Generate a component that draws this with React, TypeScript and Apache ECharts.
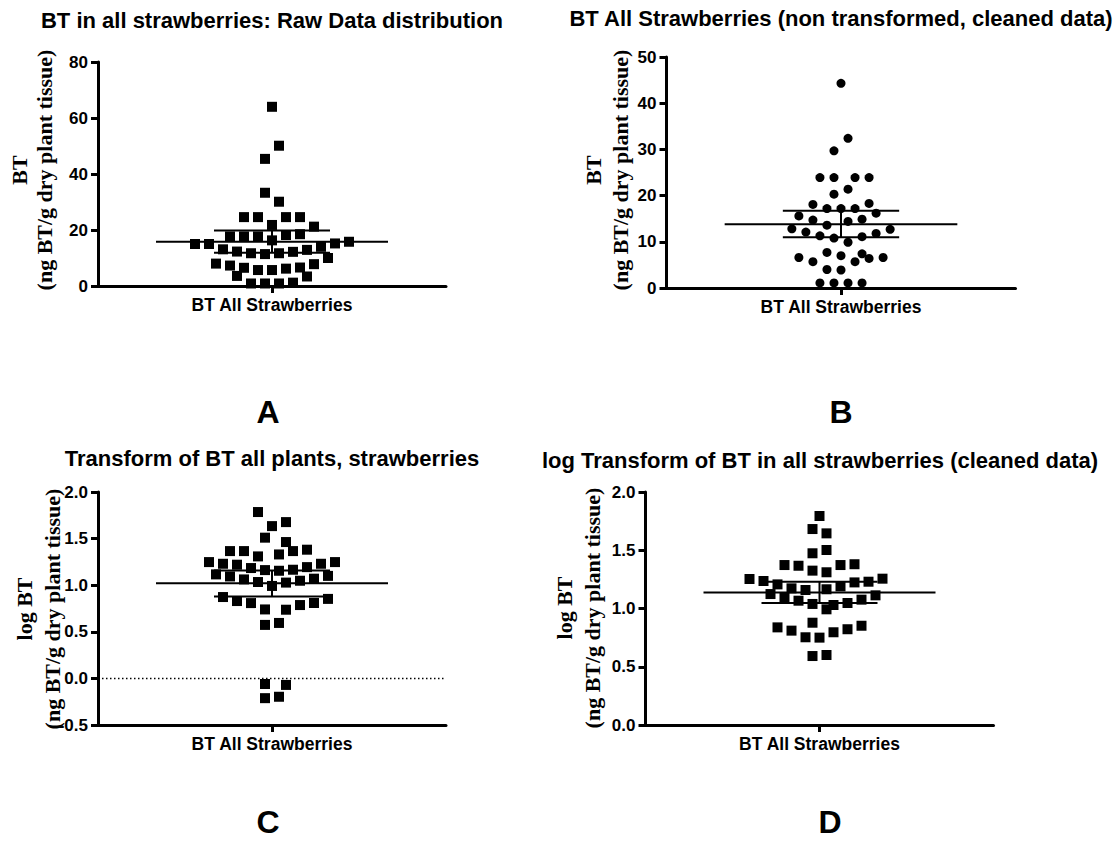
import React, { useEffect, useRef } from "react";
import * as echarts from "echarts";

// ---- Panel A: raw data (offset = horizontal scatter position, value = BT) ----
const rawOffsets = [0, 7, -7, -7, 7, -28, -14, 14, 28, 0, 42, -42, -28, -14, 14, 28, 0, -77, -63, 63, 77, 49, -49, -35, -21, -7, 7, 21, 35, 56, -56, -42, -28, -14, 0, 14, 28, 42, -35, 35, -21, -7, 7, 21];
const rawValues = [64.0, 50.1, 45.4, 33.3, 30.1, 24.6, 24.6, 24.6, 24.6, 21.8, 21.2, 17.7, 17.7, 17.7, 18.2, 18.5, 16.3, 15.0, 15.0, 15.2, 15.8, 14.0, 13.1, 12.3, 11.7, 11.4, 11.7, 12.2, 12.9, 10.0, 8.0, 7.3, 6.5, 5.7, 5.7, 6.2, 6.6, 7.8, 3.6, 3.4, 0.9, 0.9, 0.9, 1.2];
const rawStats = [15.8, 11.9, 19.8]; // mean, lower, upper

// ---- Panel B: cleaned, non transformed ----
const cleanOffsets = [0, 7, -7, -21, -7, 14, 28, -7, 7, -28, 28, -14, 0, 14, -42, 35, -28, 21, 7, -49, -14, 49, -35, 35, -21, -7, 21, 7, -14, 0, 21, -42, -28, 14, 28, 42, -14, 0, -21, -7, 7, 21];
const cleanValues = [44.3, 32.4, 29.7, 23.9, 23.9, 23.9, 23.9, 20.3, 21.4, 18.1, 18.3, 17.2, 17.2, 17.2, 15.6, 16.2, 14.7, 14.9, 14.4, 12.8, 13.6, 12.7, 12.1, 11.8, 11.3, 10.8, 11.1, 9.9, 7.7, 7.0, 7.4, 6.6, 5.7, 5.7, 6.4, 6.6, 4.0, 3.9, 1.1, 1.1, 1.1, 1.1];
const cleanStats = [13.8, 11.0, 16.7];

// ---- Panel C: log transform, all ----
const logOffsets = [-14, 0, 14, -7, 14, -42, -28, 21, 35, -14, 7, -63, -49, -35, -21, -7, 7, 21, 35, 49, 63, -56, -42, -28, -14, 0, 14, 28, 42, 56, -49, -35, -21, -7, 14, 28, 42, 56, -7, 7, -7, 14, -7, 7];
const logValues = [1.785, 1.634, 1.677, 1.51, 1.463, 1.366, 1.366, 1.366, 1.381, 1.309, 1.33, 1.248, 1.23, 1.22, 1.184, 1.162, 1.155, 1.166, 1.194, 1.23, 1.248, 1.116, 1.094, 1.062, 1.034, 0.992, 1.028, 1.048, 1.07, 1.1, 0.873, 0.83, 0.808, 0.74, 0.737, 0.787, 0.809, 0.853, 0.574, 0.595, -0.06, -0.07, -0.212, -0.197];
const logStats = [1.02, 0.88, 1.159];

// ---- Panel D: log transform, cleaned ----
const logCleanOffsets = [0, -7, 7, -7, 7, -35, -21, 21, 35, -7, 7, -70, -56, -42, 21, 35, 49, 63, -28, -14, 7, -49, -35, 56, -21, -7, 14, 28, 42, 7, -7, -42, -28, 14, 28, 42, -14, 0, -7, 7];
const logCleanValues = [1.794, 1.682, 1.645, 1.474, 1.502, 1.373, 1.367, 1.373, 1.38, 1.325, 1.311, 1.253, 1.236, 1.207, 1.19, 1.224, 1.23, 1.256, 1.173, 1.159, 1.165, 1.124, 1.096, 1.113, 1.067, 1.039, 1.03, 1.047, 1.076, 0.993, 0.878, 0.838, 0.81, 0.796, 0.822, 0.852, 0.753, 0.75, 0.592, 0.601];
const logCleanStats = [1.137, 1.047, 1.23];

const categoryLabel = "BT All Strawberries";
const titles = [
  "BT in all strawberries: Raw Data distribution",
  "BT All Strawberries (non transformed, cleaned data)",
  "Transform of BT all plants, strawberries",
  "log Transform of BT in all strawberries (cleaned data)",
];
const letters = ["A", "B", "C", "D"];
const yNames = [
  ["BT", "(ng BT/g dry plant tissue)"],
  ["BT", "(ng BT/g dry plant tissue)"],
  ["log BT", "(ng BT/g dry plant tissue)"],
  ["log BT", "(ng BT/g dry plant tissue)"],
];
const yRanges = [
  [0, 80, 20],
  [0, 50, 10],
  [-0.5, 2.0, 0.5],
  [0, 2.0, 0.5],
];

const SANS = "'Liberation Sans', Arial, sans-serif";
const SERIF = "'Liberation Serif', 'Times New Roman', serif";
const X_HALF = 174;
const MEAN_HALF = 116;
const ERR_HALF = 58;

const grids = [
  { left: 98, top: 62, width: 348, height: 224 },
  { left: 666.5, top: 57, width: 349, height: 231 },
  { left: 98, top: 492, width: 348, height: 233 },
  { left: 645.5, top: 492, width: 348, height: 233 },
];

function buildSeries(idx: number, offsets: number[], values: number[], stats: number[], symbol: string, size: number) {
  const pts = offsets.map((o, i) => [o, values[i]]);
  const [mean, lo, hi] = stats;
  const line = (data: number[][], width: number) => ({
    type: "line",
    xAxisIndex: idx,
    yAxisIndex: idx,
    data,
    symbol: "none",
    showSymbol: false,
    silent: true,
    lineStyle: { color: "#000", width, opacity: 1 },
    z: 3,
  });
  return [
    {
      type: "scatter",
      xAxisIndex: idx,
      yAxisIndex: idx,
      data: pts,
      symbol,
      symbolSize: size,
      itemStyle: { color: "#000", opacity: 1 },
      silent: true,
      z: 2,
    },
    line([[-MEAN_HALF, mean], [MEAN_HALF, mean]], 2),
    line([[-ERR_HALF, hi], [ERR_HALF, hi]], 2),
    line([[-ERR_HALF, lo], [ERR_HALF, lo]], 2),
    line([[0, lo], [0, hi]], 2),
  ];
}

export default function App() {
  const ref = useRef<HTMLDivElement>(null);
  useEffect(() => {
    if (!ref.current) return;
    const chart = echarts.init(ref.current, undefined, { renderer: "svg" });

    const xAxis = grids.map((_, i) => ({
      type: "value",
      gridIndex: i,
      min: -X_HALF,
      max: X_HALF,
      axisLine: { show: true, onZero: false, lineStyle: { color: "#000", width: 3 } },
      axisTick: { show: true, customValues: [0], length: 7, lineStyle: { color: "#000", width: 3 } },
      axisLabel: {
        show: true,
        customValues: [0],
        formatter: () => categoryLabel,
        margin: 10,
        color: "#000",
        fontSize: 17.5,
        fontWeight: "bold",
        fontFamily: SANS,
      },
      splitLine: { show: false },
    }));

    const yAxis = yRanges.map((r, i) => ({
      type: "value",
      gridIndex: i,
      min: r[0],
      max: r[1],
      interval: r[2],
      axisLine: { show: true, onZero: false, lineStyle: { color: "#000", width: 3 } },
      axisTick: { show: true, length: 7, lineStyle: { color: "#000", width: 3 } },
      axisLabel: {
        margin: 10,
        color: "#000",
        fontSize: 17,
        fontWeight: "bold",
        fontFamily: SANS,
        formatter: (v: number) => (r[2] < 1 ? v.toFixed(1) : String(v)),
      },
      splitLine: { show: false },
    }));

    const series: any[] = [
      ...buildSeries(0, rawOffsets, rawValues, rawStats, "rect", 10),
      ...buildSeries(1, cleanOffsets, cleanValues, cleanStats, "circle", 9),
      ...buildSeries(2, logOffsets, logValues, logStats, "rect", 10),
      ...buildSeries(3, logCleanOffsets, logCleanValues, logCleanStats, "rect", 10),
      {
        type: "line",
        xAxisIndex: 2,
        yAxisIndex: 2,
        data: [[-X_HALF, 0], [X_HALF, 0]],
        symbol: "none",
        silent: true,
        lineStyle: { color: "#000", width: 1.5, type: [1.5, 2.5] },
        z: 1,
      },
    ];

    const titlePos = [
      [272, 20],
      [841, 18],
      [272, 458],
      [820, 460],
    ];
    const letterPos = [
      [268, 412],
      [841, 412],
      [268, 822],
      [830, 822],
    ];
    const namePos = [
      [19, 44, 170],
      [593, 620, 170],
      [24, 52, 609],
      [564, 592, 608],
    ];

    const graphic: any[] = [];
    const textStyle = (text: string, fontSize: number, family: string) => ({
      text,
      fill: "#000",
      fontSize,
      fontWeight: "bold",
      fontFamily: family,
      align: "center",
      verticalAlign: "middle",
      textAlign: "center",
      textVerticalAlign: "middle",
    });
    titles.forEach((t, i) => {
      graphic.push({ type: "text", x: titlePos[i][0], y: titlePos[i][1], silent: true, style: textStyle(t, 22, SANS) });
    });
    letters.forEach((t, i) => {
      graphic.push({ type: "text", x: letterPos[i][0], y: letterPos[i][1], silent: true, style: textStyle(t, 32, SANS) });
    });
    yNames.forEach((lines, i) => {
      lines.forEach((t, j) => {
        graphic.push({
          type: "text",
          x: namePos[i][j],
          y: namePos[i][2],
          rotation: Math.PI / 2,
          silent: true,
          style: textStyle(t, 22, SERIF),
        });
      });
    });

    chart.setOption({
      animation: false,
      backgroundColor: "#fff",
      grid: grids.map((g) => ({ ...g, containLabel: false, outerBoundsMode: "none" })),
      xAxis,
      yAxis,
      series,
      graphic,
    });
    return () => chart.dispose();
  }, []);

  return (
    <div
      ref={ref}
      style={{ position: "absolute", left: 0, top: 0, width: 1120, height: 865, background: "#fff" }}
    />
  );
}
